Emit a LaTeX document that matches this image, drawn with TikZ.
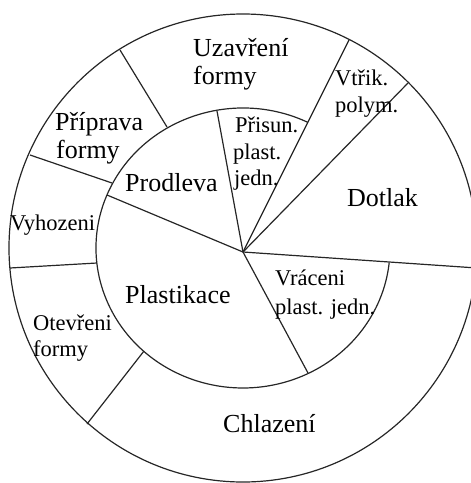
\documentclass[tikz,border=0pt]{standalone}
\usepackage{fontspec}
\setmainfont{Liberation Serif}
\begin{document}
\begin{tikzpicture}[x=1pt,y=-1pt,
  ring/.style={line width=1.2pt, draw=black!85},
  sep/.style={line width=1.2pt, draw=black!85},
  big/.style={anchor=base west, inner sep=0pt, font=\fontsize{26}{28}\selectfont},
  small/.style={anchor=base west, inner sep=0pt, font=\fontsize{22.5}{27}\selectfont}]
\useasboundingbox (0,0) rectangle (471,483);
\clip (0,0) rectangle (471,483);
% centres
\coordinate (C) at (243,248);
\coordinate (P) at (243,252);
% outer circle and inner arc
\draw[ring] (C) circle[radius=234pt];
\draw[ring] (C) ++(63.8:147pt and 140pt) arc[start angle=63.8, end angle=354, x radius=147pt, y radius=140pt];
% boundary points
\coordinate (o1) at (349,40);
\coordinate (o2) at (408,83);
\coordinate (o3) at (477,268);
\coordinate (i4) at (308,373);
\coordinate (i5) at (107,195);
\coordinate (o5) at (30,155);
\coordinate (i5b) at (112,183);
\coordinate (o6) at (120,50);
\coordinate (i6) at (167,127);
\coordinate (i7) at (217,111);
\coordinate (o8) at (10,268);
\coordinate (i8) at (97,263);
\coordinate (o9) at (87,424);
\coordinate (i9) at (144,351);
% separators
\draw[sep] (P) -- (o1);
\draw[sep] (P) -- (o2);
\draw[sep] (P) -- (o3);
\draw[sep] (P) -- (i4);
\draw[sep] (P) -- (i5);
\draw[sep] (o5) -- (i5b);
\draw[sep] (o6) -- (i6);
\draw[sep] (P) -- (i7);
\draw[sep] (o8) -- (i8);
\draw[sep] (o9) -- (i9);
% labels
\node[big] (uz) at (193,56) {Uzavření};
\node[big] (uzf) at (193,84) {formy};
\node[big] (pr) at (55,130) {Příprava};
\node[big] (prf) at (56,158) {formy};
\node[big] (pd) at (125,191) {Prodleva};
\node[small] (vy) at (10,230) {Vyhozeni};
\node[small] (ot) at (33,330) {Otevřeni};
\node[small] (otf) at (33,356) {formy};
\node[big] (pl) at (125,303) {Plastikace};
\node[small] (ps) at (235,132) {Přisun.};
\node[small] (psp) at (233,159) {plast.};
\node[small] (psj) at (234,185) {jedn.};
\node[small] (vt) at (335,85) {Vtřik.};
\node[small] (vtp) at (335,112) {polym.};
\node[big] (dt) at (347,206) {Dotlak};
\node[small] (vr) at (275,285) {Vráceni};
\node[small] (vrp) at (275,314) {plast. jedn.};
\node[big] (ch) at (223,432) {Chlazení};
\end{tikzpicture}
\end{document}
